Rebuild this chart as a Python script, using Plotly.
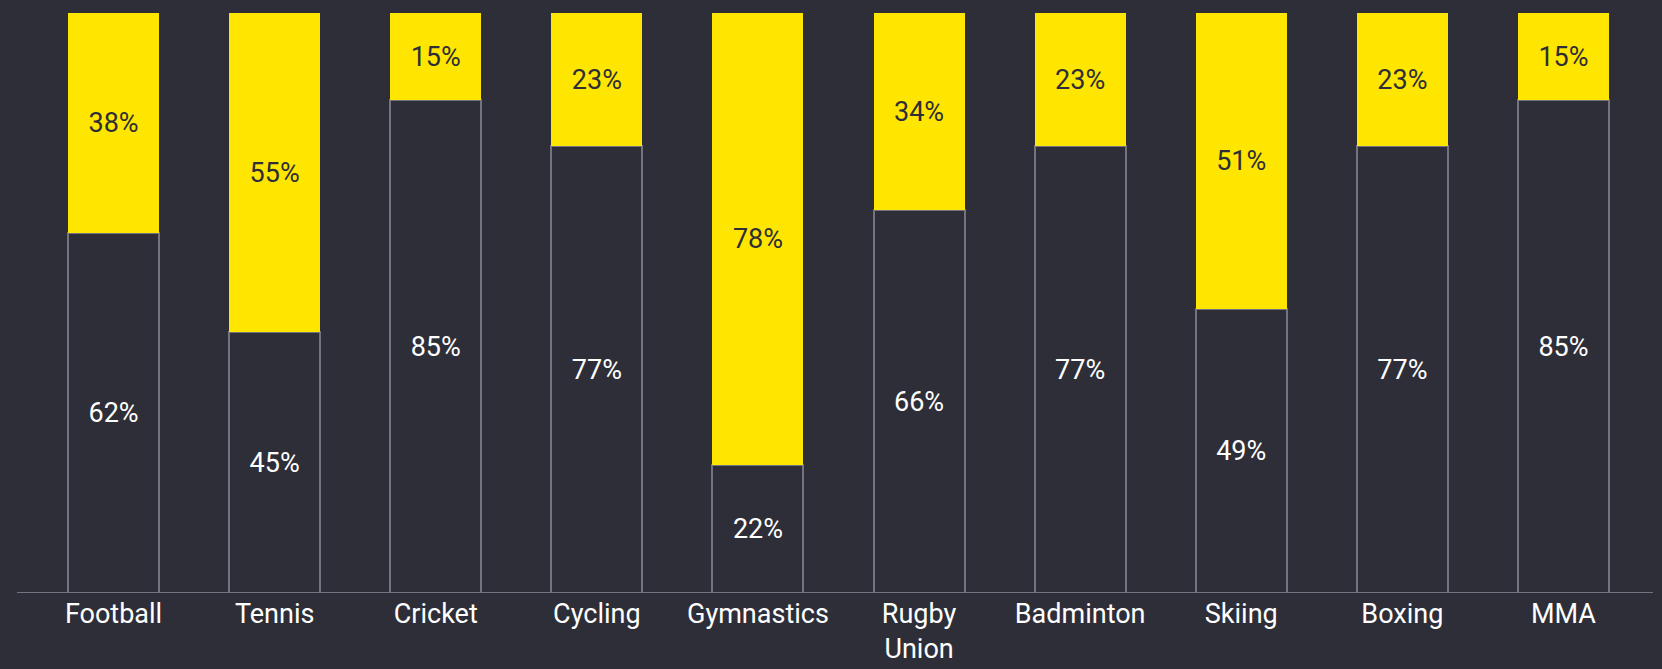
import plotly.graph_objects as go

# Share of respondents per sport, split into two stacked segments
sports = ["Football", "Tennis", "Cricket", "Cycling", "Gymnastics",
          "Rugby<br>Union", "Badminton", "Skiing", "Boxing", "MMA"]
lower_share = [62, 45, 85, 77, 22, 66, 77, 49, 77, 85]
upper_share = [38, 55, 15, 23, 78, 34, 23, 51, 23, 15]

BG = "#2e2e38"
YELLOW = "#ffe600"
GREY = "#747480"
FONT = "Roboto"

fig = go.Figure()

fig.add_trace(go.Bar(
    x=sports, y=lower_share,
    marker=dict(color=BG, line=dict(color=GREY, width=2)),
    text=[f"{v}%" for v in lower_share],
    textposition="inside", insidetextanchor="middle",
    textfont=dict(family=FONT, size=27, color="#ffffff"),
    textangle=0, hoverinfo="skip",
))

fig.add_trace(go.Bar(
    x=sports, y=upper_share,
    marker=dict(color=YELLOW, line=dict(width=0)),
    text=[f"{v}%" for v in upper_share],
    textposition="inside", insidetextanchor="middle",
    textfont=dict(family=FONT, size=27, color=BG),
    textangle=0, hoverinfo="skip",
))

# Baseline running slightly past the plotting area
fig.add_shape(type="line", xref="paper", yref="y",
              x0=-0.0099, x1=1.0056, y0=0, y1=0,
              line=dict(color=GREY, width=2), layer="above")

fig.update_layout(
    barmode="stack",
    bargap=0.435,
    width=1662, height=669,
    margin=dict(l=33, r=18, t=13, b=76, autoexpand=False),
    paper_bgcolor=BG, plot_bgcolor=BG,
    showlegend=False,
    uniformtext=dict(minsize=10, mode="show"),
    font=dict(family=FONT, color="#ffffff"),
    xaxis=dict(showgrid=False, showline=False, zeroline=False,
               automargin=False,
               ticks="", ticklabelstandoff=2,
               tickfont=dict(family=FONT, size=27, color="#ffffff")),
    yaxis=dict(range=[0, 100], visible=False, showgrid=False, zeroline=False),
)

fig.write_html("out.html")
